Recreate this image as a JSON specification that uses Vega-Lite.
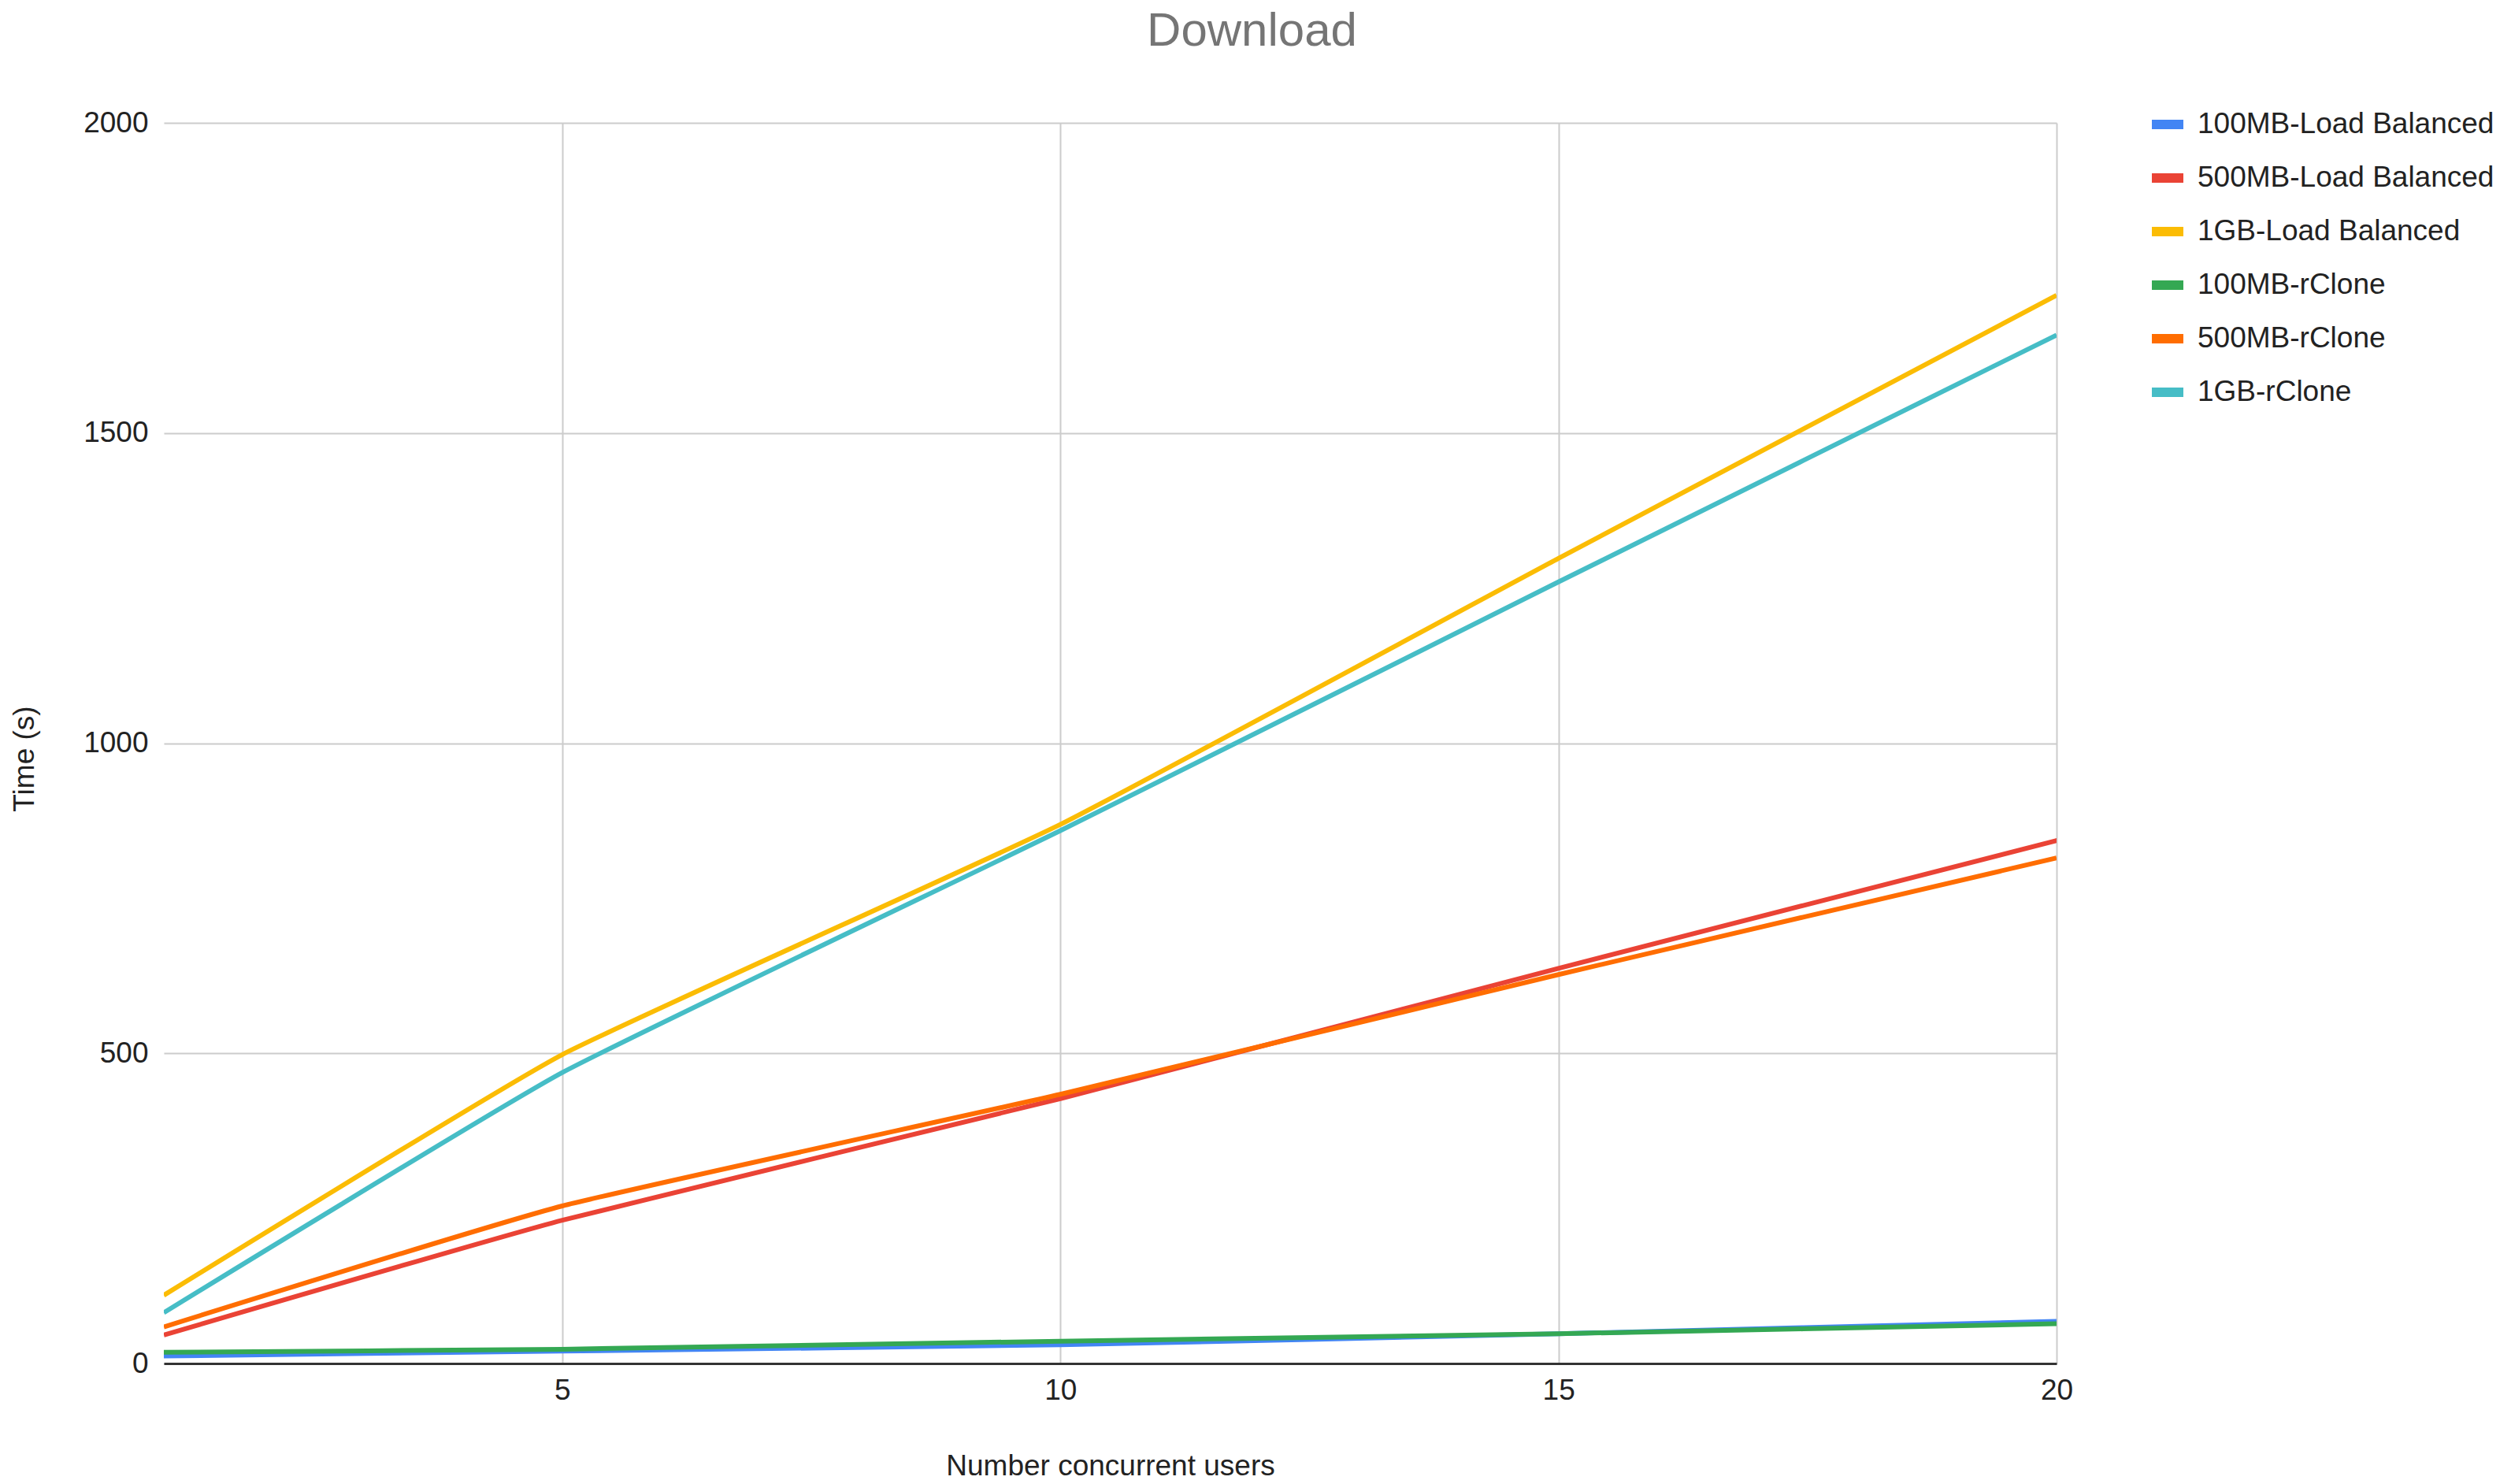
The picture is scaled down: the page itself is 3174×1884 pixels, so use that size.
{
  "$schema": "https://vega.github.io/schema/vega-lite/v6.json",
  "autosize": {"type": "none"},
  "width": 2403,
  "height": 1575,
  "padding": {"left": 208, "top": 156, "right": 563, "bottom": 153},
  "background": "white",
  "title": {
    "text": "Download",
    "fontSize": 60,
    "font": "Liberation Sans",
    "fontWeight": "normal",
    "color": "#757575",
    "anchor": "middle",
    "dx": 180,
    "baseline": "alphabetic",
    "offset": 14
  },
  "data": {
    "values": [
      {"users": 1, "time": 12, "series": "100MB-Load Balanced"},
      {"users": 5, "time": 20, "series": "100MB-Load Balanced"},
      {"users": 10, "time": 30, "series": "100MB-Load Balanced"},
      {"users": 15, "time": 48, "series": "100MB-Load Balanced"},
      {"users": 20, "time": 68, "series": "100MB-Load Balanced"},
      {"users": 1, "time": 46, "series": "500MB-Load Balanced"},
      {"users": 5, "time": 231, "series": "500MB-Load Balanced"},
      {"users": 10, "time": 427, "series": "500MB-Load Balanced"},
      {"users": 15, "time": 637, "series": "500MB-Load Balanced"},
      {"users": 20, "time": 843, "series": "500MB-Load Balanced"},
      {"users": 1, "time": 110, "series": "1GB-Load Balanced"},
      {"users": 5, "time": 498, "series": "1GB-Load Balanced"},
      {"users": 10, "time": 869, "series": "1GB-Load Balanced"},
      {"users": 15, "time": 1298, "series": "1GB-Load Balanced"},
      {"users": 20, "time": 1722, "series": "1GB-Load Balanced"},
      {"users": 1, "time": 18, "series": "100MB-rClone"},
      {"users": 5, "time": 23, "series": "100MB-rClone"},
      {"users": 10, "time": 36, "series": "100MB-rClone"},
      {"users": 15, "time": 48, "series": "100MB-rClone"},
      {"users": 20, "time": 64, "series": "100MB-rClone"},
      {"users": 1, "time": 59, "series": "500MB-rClone"},
      {"users": 5, "time": 254, "series": "500MB-rClone"},
      {"users": 10, "time": 434, "series": "500MB-rClone"},
      {"users": 15, "time": 627, "series": "500MB-rClone"},
      {"users": 20, "time": 815, "series": "500MB-rClone"},
      {"users": 1, "time": 82, "series": "1GB-rClone"},
      {"users": 5, "time": 469, "series": "1GB-rClone"},
      {"users": 10, "time": 859, "series": "1GB-rClone"},
      {"users": 15, "time": 1260, "series": "1GB-rClone"},
      {"users": 20, "time": 1658, "series": "1GB-rClone"}
    ]
  },
  "mark": {"type": "line", "strokeWidth": 6, "interpolate": "cardinal", "tension": 0.6, "clip": true},
  "encoding": {
    "x": {
      "field": "users",
      "type": "quantitative",
      "scale": {"domain": [1, 20], "nice": false, "zero": false},
      "axis": {
        "title": "Number concurrent users",
        "values": [5, 10, 15, 20],
        "labelFlush": false,
        "grid": true,
        "gridColor": "#cccccc",
        "gridWidth": 2,
        "ticks": false,
        "domain": true,
        "domainColor": "#333333",
        "domainWidth": 3,
        "labelFontSize": 37,
        "labelFont": "Liberation Sans",
        "labelColor": "#222222",
        "labelPadding": 16,
        "titleFontSize": 37,
        "titleFont": "Liberation Sans",
        "titleFontWeight": "normal",
        "titleColor": "#222222",
        "titlePadding": 60
      }
    },
    "y": {
      "field": "time",
      "type": "quantitative",
      "scale": {"domain": [0, 2000], "nice": false},
      "axis": {
        "title": "Time (s)",
        "format": "d",
        "values": [0, 500, 1000, 1500, 2000],
        "grid": true,
        "gridColor": "#cccccc",
        "gridWidth": 2,
        "ticks": false,
        "domain": false,
        "labelFontSize": 37,
        "labelFont": "Liberation Sans",
        "labelColor": "#222222",
        "labelPadding": 20,
        "titleFontSize": 37,
        "titleFont": "Liberation Sans",
        "titleFontWeight": "normal",
        "titleColor": "#222222",
        "titlePadding": 55,
        "titleY": 807
      }
    },
    "color": {
      "field": "series",
      "type": "nominal",
      "sort": ["100MB-Load Balanced", "500MB-Load Balanced", "1GB-Load Balanced", "100MB-rClone", "500MB-rClone", "1GB-rClone"],
      "scale": {
        "domain": ["100MB-Load Balanced", "500MB-Load Balanced", "1GB-Load Balanced", "100MB-rClone", "500MB-rClone", "1GB-rClone"],
        "range": ["#4285F4", "#EA4335", "#FBBC04", "#34A853", "#FF6D01", "#46BDC6"]
      },
      "legend": {
        "title": null,
        "orient": "none",
        "legendX": 2518,
        "legendY": -24,
        "symbolType": "stroke",
        "symbolSize": 1600,
        "symbolStrokeWidth": 12,
        "labelFontSize": 37,
        "labelFont": "Liberation Sans",
        "labelColor": "#222222",
        "labelOffset": 12,
        "labelLimit": 600,
        "rowPadding": 18,
        "padding": 0
      }
    }
  },
  "config": {"view": {"stroke": null}}
}
